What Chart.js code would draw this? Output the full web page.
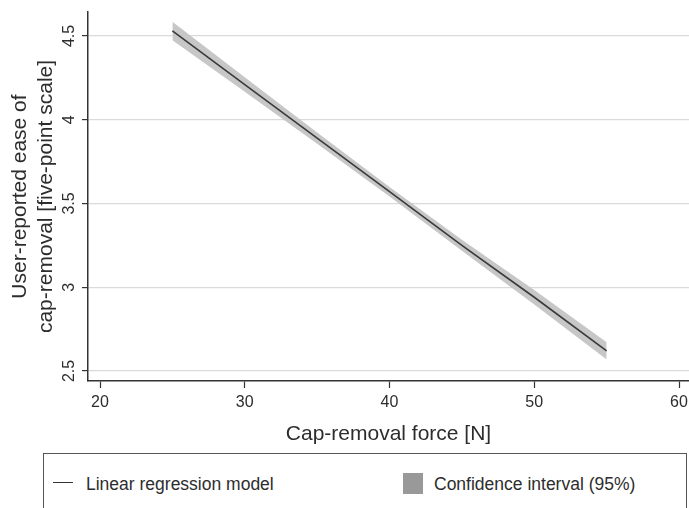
<!DOCTYPE html>
<html lang="en">
<head>
  <meta charset="UTF-8">
  <title>Cap-removal force vs ease of cap-removal</title>
  <script src="https://cdn.jsdelivr.net/npm/chart.js"></script>
  <style>
    html, body { margin: 0; padding: 0; background: #fff; overflow: hidden; }
    body { width: 689px; height: 508px; position: relative; font-family: "Liberation Sans", Arial, sans-serif; color: #333; }
    #chart { position: absolute; left: 0; top: 0; }
    .legend-box {
      position: absolute; left: 43px; top: 453px; width: 644px; height: 100px;
      border: 1px solid #555; box-sizing: border-box;
    }
    .legend-line { position: absolute; left: 53px; top: 482px; width: 20px; height: 0; border-top: 1.5px solid #333; }
    .legend-swatch { position: absolute; left: 403px; top: 473px; width: 20px; height: 21px; background: #999; }
    .legend-text { position: absolute; top: 474px; font-size: 17.5px; line-height: 21px; white-space: nowrap; color: #2d2d2d; }
  </style>
</head>
<body>
  <canvas id="chart" width="689" height="452"></canvas>
  <div class="legend-box"></div>
  <div class="legend-line"></div>
  <div class="legend-text" style="left:86px">Linear regression model</div>
  <div class="legend-swatch"></div>
  <div class="legend-text" style="left:434px">Confidence interval (95%)</div>

  <script>
    // data
    const force = [25, 30, 35, 40, 45, 50, 55];
    const ease = [4.53, 4.21, 3.89, 3.57, 3.25, 2.94, 2.62];
    const ciUpper = [4.585, 4.253, 3.923, 3.598, 3.283, 2.983, 2.672];
    const ciLower = [4.475, 4.167, 3.857, 3.542, 3.217, 2.897, 2.568];
    const xTicks = [20, 30, 40, 50, 60];
    const yTicks = [2.5, 3, 3.5, 4, 4.5];

    const pts = vals => force.map((f, i) => ({ x: f, y: vals[i] }));
    const textColor = '#2d2d2d';
    const fontFamily = '"Liberation Sans", Arial, sans-serif';

    // y tick labels are rotated in the original, draw them by hand
    const yTickLabels = {
      id: 'yTickLabels',
      afterDraw(chart) {
        const ctx = chart.ctx;
        const y = chart.scales.y;
        ctx.save();
        ctx.fillStyle = textColor;
        ctx.font = '16px ' + fontFamily;
        ctx.textAlign = 'center';
        ctx.textBaseline = 'middle';
        yTicks.forEach(v => {
          ctx.save();
          ctx.translate(70, y.getPixelForValue(v));
          ctx.rotate(-Math.PI / 2);
          ctx.fillText(String(v), 0, 0);
          ctx.restore();
        });
        ctx.restore();
      }
    };

    new Chart(document.getElementById('chart'), {
      type: 'line',
      data: {
        datasets: [
          {
            label: 'Linear regression model',
            data: pts(ease),
            borderColor: '#3a3a3a',
            borderWidth: 1.6,
            pointRadius: 0,
            fill: false
          },
          {
            label: 'ci upper',
            data: pts(ciUpper),
            borderWidth: 0,
            pointRadius: 0,
            fill: false
          },
          {
            label: 'Confidence interval (95%)',
            data: pts(ciLower),
            borderWidth: 0,
            pointRadius: 0,
            backgroundColor: '#c7c7c7',
            fill: '-1'
          }
        ]
      },
      options: {
        responsive: false,
        animation: false,
        layout: { padding: { top: 12, left: 0, right: 0, bottom: 0 } },
        plugins: { legend: { display: false }, tooltip: { enabled: false } },
        scales: {
          x: {
            type: 'linear',
            min: 19.17,
            max: 60.69,
            afterBuildTicks: s => { s.ticks = xTicks.map(v => ({ value: v })); },
            afterFit: s => { s.height = 71; s.paddingLeft = 0; s.paddingRight = 0; },
            grid: { display: true, drawOnChartArea: false, drawTicks: true, tickLength: 7, tickColor: '#333', tickWidth: 1.2 },
            border: { color: '#333', width: 1.5 },
            ticks: { color: textColor, font: { size: 16, family: fontFamily }, padding: 5, maxRotation: 0 },
            title: { display: true, text: 'Cap-removal force [N]', color: textColor, font: { size: 21, family: fontFamily }, padding: { top: 0, bottom: 5 } }
          },
          y: {
            type: 'linear',
            min: 2.44,
            max: 4.643,
            afterBuildTicks: s => { s.ticks = yTicks.map(v => ({ value: v })); },
            afterFit: s => { s.width = 88; s.paddingTop = 0; s.paddingBottom = 0; },
            grid: { color: '#dadada', lineWidth: 1.2, drawTicks: true, tickLength: 6, tickColor: '#333', tickWidth: 1.2 },
            border: { color: '#333', width: 1.5 },
            ticks: { display: false },
            title: {
              display: true,
              text: ['User-reported ease of', 'cap-removal [five-point scale]'],
              color: textColor,
              font: { size: 21, family: fontFamily, lineHeight: 1.2 },
              padding: { top: 8, bottom: 0 }
            }
          }
        }
      },
      plugins: [yTickLabels]
    });
  </script>
</body>
</html>
